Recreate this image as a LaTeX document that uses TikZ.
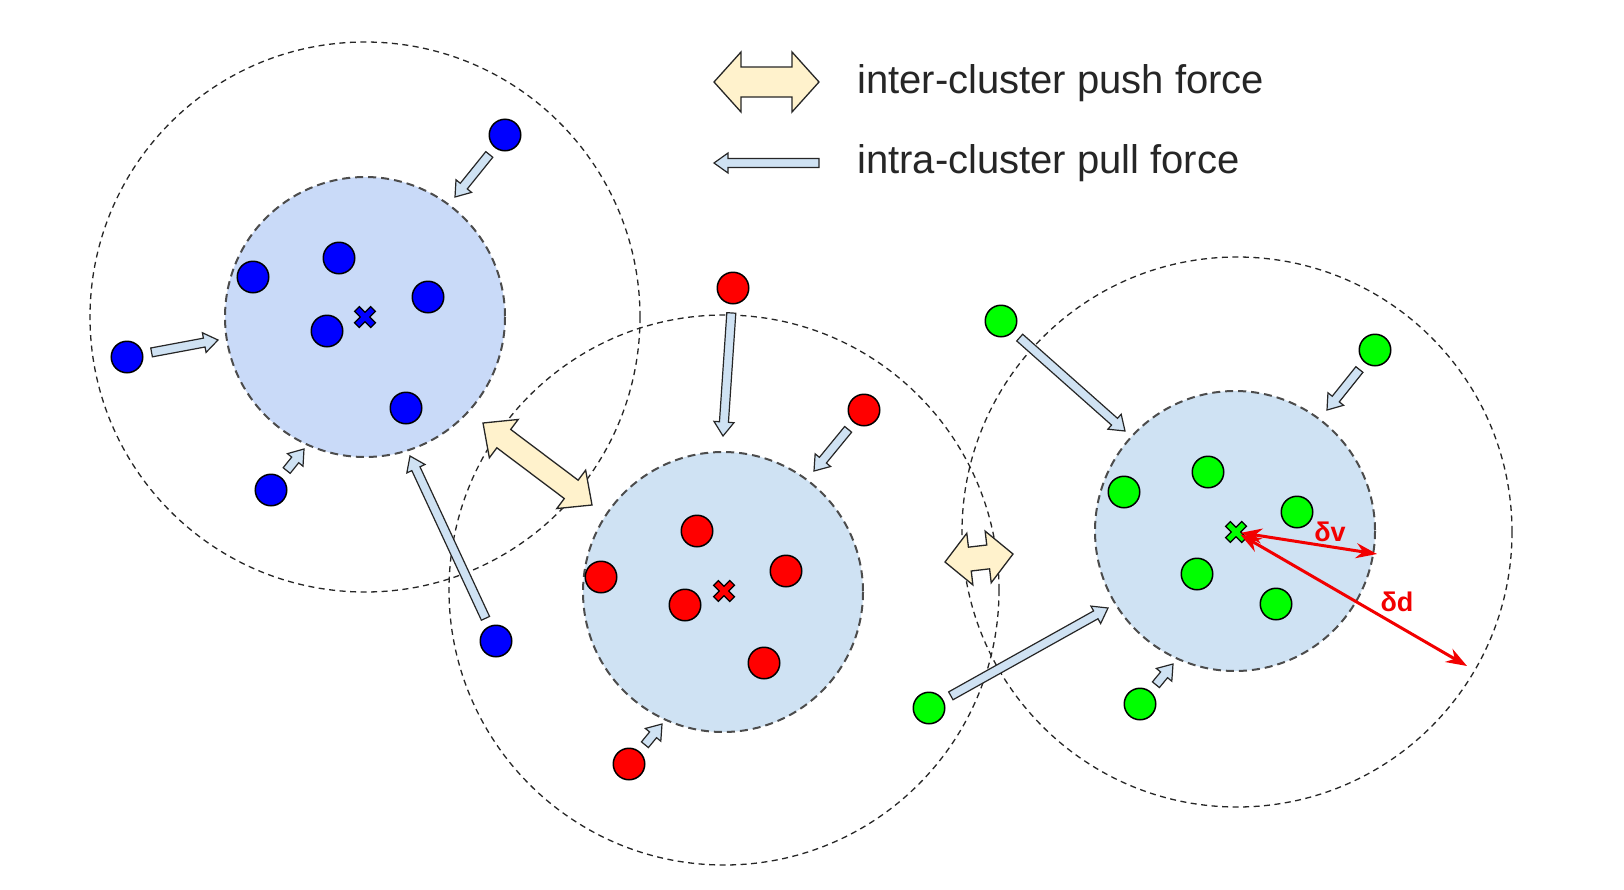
\documentclass[tikz,border=0pt]{standalone}
\usepackage{fontspec}
\setmainfont{Liberation Sans}
\usepackage{tikz}
\usetikzlibrary{calc}
\usetikzlibrary{arrows.meta}

\definecolor{coreblue}{HTML}{C9DAF8}
\definecolor{corepale}{HTML}{CFE2F3}
\definecolor{pullfill}{HTML}{CFE2F3}
\definecolor{pushfill}{HTML}{FFF2CC}
\definecolor{dotblue}{HTML}{0000FF}
\definecolor{dotred}{HTML}{FF0000}
\definecolor{dotgreen}{HTML}{00FF00}
\definecolor{deltared}{HTML}{F20000}

\tikzset{%
    outer ring/.style={draw=black!85, line width=1.3pt, dash pattern=on 6pt off 4.5pt},
    core/.style={draw=black!70, line width=2pt, dash pattern=on 8pt off 5pt},
    dot/.style={circle, draw=black, line width=1.5pt, minimum size=31.5pt, inner sep=0pt},
    bdot/.style={dot, fill=dotblue},
    rdot/.style={dot, fill=dotred},
    gdot/.style={dot, fill=dotgreen},
    pull arrow/.style={draw=black!85, line width=1.2pt, fill=pullfill},
    push arrow/.style={draw=black!85, line width=1.3pt, fill=pushfill},
    delta/.style={draw=deltared, line width=3pt, shorten <=5pt,
        {Stealth[length=21pt,width=15pt]}-{Stealth[length=21pt,width=15pt]}},
    delta label/.style={text=deltared, inner sep=1pt, font=\fontsize{27}{30}\selectfont\bfseries},
    legend/.style={anchor=west, text=black!85, inner sep=0pt, font=\fontsize{40}{48}\selectfont},
}

% pull arrow from a dot (#2) to a tip (#3), #1 = gap at the dot
\newcommand{\pullarrow}[3][25pt]{%
  \path[pull arrow] let \p1=($(#2)!#1!(#3)$), \p2=($(#3)-(\p1)$),
      \n1={atan2(\y2,\x2)}, \n2={veclen(\x2,\y2)} in
    ($(\p1)+(\n1+90:4.5pt)$)
    -- ($(\p1)+(\n1:\n2-14pt)+(\n1+90:4.5pt)$)
    -- ($(\p1)+(\n1:\n2-14pt)+(\n1+90:10pt)$)
    -- (#3)
    -- ($(\p1)+(\n1:\n2-14pt)+(\n1-90:10pt)$)
    -- ($(\p1)+(\n1:\n2-14pt)+(\n1-90:4.5pt)$)
    -- ($(\p1)+(\n1-90:4.5pt)$) -- cycle;}

% push arrow between two tips: head length, head half width, shaft half width
\newcommand{\pusharrow}[5]{%
  \path[push arrow] let \p2=($(#2)-(#1)$),
      \n1={atan2(\y2,\x2)}, \n2={veclen(\x2,\y2)} in
    (#1)
    -- ($(#1)+(\n1:#3)+(\n1+90:#4)$) -- ($(#1)+(\n1:#3)+(\n1+90:#5)$)
    -- ($(#1)+(\n1:\n2-#3)+(\n1+90:#5)$) -- ($(#1)+(\n1:\n2-#3)+(\n1+90:#4)$)
    -- (#2)
    -- ($(#1)+(\n1:\n2-#3)+(\n1-90:#4)$) -- ($(#1)+(\n1:\n2-#3)+(\n1-90:#5)$)
    -- ($(#1)+(\n1:#3)+(\n1-90:#5)$) -- ($(#1)+(\n1:#3)+(\n1-90:#4)$)
    -- cycle;}

% cluster centre mark
\newcommand{\centremark}[2]{%
  \draw[line width=8pt, black] ($(#1)+(-8.5,-8.5)$) -- ($(#1)+(8.5,8.5)$)
      ($(#1)+(-8.5,8.5)$) -- ($(#1)+(8.5,-8.5)$);
  \draw[line width=5pt, #2] ($(#1)+(-7.5,-7.5)$) -- ($(#1)+(7.5,7.5)$)
      ($(#1)+(-7.5,7.5)$) -- ($(#1)+(7.5,-7.5)$);}

\begin{document}
\begin{tikzpicture}[x=1pt,y=-1pt]
\path [use as bounding box, fill=white] (0,0) rectangle (1624,889);

\coordinate (bc) at (365,317);
\coordinate (rc) at (724,591);
\coordinate (gc) at (1236,532);

% margins of the clusters
\draw [outer ring] (bc) circle [radius=275];
\draw [outer ring] (724,590) circle [radius=275];
\draw [outer ring] (1237,532) circle [radius=275];

% cluster cores
\draw [core, fill=coreblue] (bc) circle [radius=140];
\draw [core, fill=corepale] (723,592) circle [radius=140];
\draw [core, fill=corepale] (1235,531) circle [radius=140];

% push forces
\coordinate (pa) at (483,423);
\coordinate (pb) at (592,505);
\coordinate (qa) at (945,562);
\coordinate (qb) at (1013,554);
\pusharrow{pa}{pb}{26pt}{24pt}{11.5pt}
\pusharrow{qa}{qb}{25pt}{26pt}{12pt}

% blue cluster
\node (b1) [bdot] at (253,277) {};
\node (b2) [bdot] at (339,258) {};
\node (b3) [bdot] at (428,297) {};
\node (b4) [bdot] at (327,331) {};
\node (b5) [bdot] at (406,408) {};
\node (b6) [bdot] at (505,135) {};
\node (b7) [bdot] at (127,357) {};
\node (b8) [bdot] at (271,490) {};
\node (b9) [bdot] at (496,641) {};
\coordinate (bt6) at (455,197);
\coordinate (bt7) at (218,340);
\coordinate (bt8) at (304,449);
\coordinate (bt9) at (410,456);
\pullarrow{b6}{bt6}
\pullarrow{b7}{bt7}
\pullarrow{b8}{bt8}
\pullarrow{b9}{bt9}
\centremark{bc}{dotblue}

% red cluster
\node (r1) [rdot] at (697,531) {};
\node (r2) [rdot] at (601,577) {};
\node (r3) [rdot] at (786,571) {};
\node (r4) [rdot] at (685,605) {};
\node (r5) [rdot] at (764,663) {};
\node (r6) [rdot] at (733,288) {};
\node (r7) [rdot] at (864,410) {};
\node (r8) [rdot] at (629,764) {};
\coordinate (rt6) at (723,436);
\coordinate (rt7) at (814,471);
\coordinate (rt8) at (662,724);
\pullarrow{r6}{rt6}
\pullarrow{r7}{rt7}
\pullarrow{r8}{rt8}
\centremark{rc}{dotred}

% green cluster
\node (g1) [gdot] at (1124,492) {};
\node (g2) [gdot] at (1208,472) {};
\node (g3) [gdot] at (1297,512) {};
\node (g4) [gdot] at (1197,574) {};
\node (g5) [gdot] at (1276,604) {};
\node (g6) [gdot] at (1001,321) {};
\node (g7) [gdot] at (1375,350) {};
\node (g8) [gdot] at (929,708) {};
\node (g9) [gdot] at (1140,704) {};
\coordinate (gt6) at (1125,431);
\coordinate (gt7) at (1327,410);
\coordinate (gt8) at (1108,608);
\coordinate (gt9) at (1173,664);
\pullarrow{g6}{gt6}
\pullarrow{g7}{gt7}
\pullarrow{g8}{gt8}
\pullarrow{g9}{gt9}
\centremark{gc}{dotgreen}

% margins
\coordinate (dv) at (1377,554);
\coordinate (dd) at (1467,666);
\draw [delta] (gc) -- (dv);
\draw [delta] (gc) -- (dd);
\node (dvl) [delta label] at (1330,532) {δv};
\node (ddl) [delta label] at (1397,602) {δd};

% legend
\coordinate (la) at (714,82);
\coordinate (lb) at (819,82);
\pusharrow{la}{lb}{27pt}{30pt}{15pt}
\coordinate (lt) at (819,163);
\coordinate (lh) at (714,163);
\pullarrow[0pt]{lt}{lh}
\node (push) [legend] at (857,83) {inter-cluster push force};
\node (pull) [legend] at (857,163) {intra-cluster pull force};
\end{tikzpicture}
\end{document}
